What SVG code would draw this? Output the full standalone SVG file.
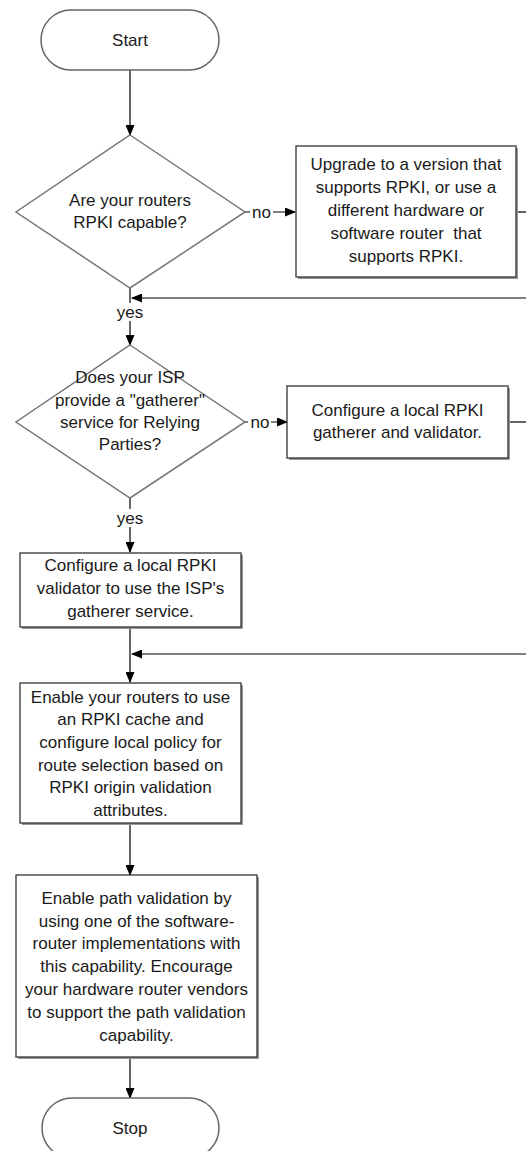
<svg xmlns="http://www.w3.org/2000/svg" width="526" height="1151" viewBox="0 0 526 1151">
<defs>
<marker id="ah" markerWidth="11" markerHeight="9" refX="10" refY="4.5" orient="auto" markerUnits="userSpaceOnUse">
<path d="M0,0 L11,4.5 L0,9 Z" fill="#000"/>
</marker>
<style>
text{font-family:"Liberation Sans",Arial,sans-serif;font-size:17px;fill:#1a1a1a;text-anchor:middle;dominant-baseline:central}
.term{fill:#fff;stroke:#666;stroke-width:1.5}
.dia{fill:#fff;stroke:#777;stroke-width:1.5}
.box{fill:#fff;stroke:#333;stroke-width:1.3}
.sh{fill:#999}
.con{fill:none;stroke:#000;stroke-width:1.2}
.lbl{fill:#fff}
</style>
</defs>
<rect width="526" height="1151" fill="#fff"/>
<g id="connectors">
<path class="con" d="M130,70 V135" marker-end="url(#ah)"/>
<path class="con" d="M245,212 H295" marker-end="url(#ah)"/>
<rect class="lbl" x="250" y="204" width="23" height="16"/>
<text x="261.5" y="212">no</text>
<path class="con" d="M516,212 H526"/>
<path class="con" d="M526,298 H132" marker-end="url(#ah)"/>
<path class="con" d="M130,288 V345" marker-end="url(#ah)"/>
<rect class="lbl" x="116" y="303" width="28" height="18"/>
<text x="130" y="312">yes</text>
<path class="con" d="M245,422 H287" marker-end="url(#ah)"/>
<rect class="lbl" x="248" y="414" width="23" height="16"/>
<text x="260" y="422">no</text>
<path class="con" d="M508,422 H526"/>
<path class="con" d="M130,498 V552" marker-end="url(#ah)"/>
<rect class="lbl" x="116" y="509" width="28" height="18"/>
<text x="130" y="518">yes</text>
<path class="con" d="M130,627 V682" marker-end="url(#ah)"/>
<path class="con" d="M526,654 H132" marker-end="url(#ah)"/>
<path class="con" d="M130,824 V875" marker-end="url(#ah)"/>
<path class="con" d="M130,1058 V1098" marker-end="url(#ah)"/>
</g>
<g id="start">
<rect class="term" x="41" y="10" width="178" height="60" rx="30"/>
<text x="130" y="40">Start</text>
</g>
<g id="q1">
<polygon class="dia" points="130,135 245,212 130,288 16,212"/>
<text x="130" y="200">Are your routers</text>
<text x="130" y="222">RPKI capable?</text>
</g>
<g id="upgrade">
<rect class="sh" x="298" y="148" width="220" height="131"/>
<rect class="box" x="296" y="146" width="220" height="131"/>
<text x="406" y="164">Upgrade to a version that</text>
<text x="406" y="187">supports RPKI, or use a</text>
<text x="406" y="210">different hardware or</text>
<text x="406" y="233" xml:space="preserve">software router  that</text>
<text x="406" y="256">supports RPKI.</text>
</g>
<g id="q2">
<polygon class="dia" points="130,345 245,422 130,498 16,422"/>
<text x="130" y="377">Does your ISP</text>
<text x="130" y="400">provide a "gatherer"</text>
<text x="130" y="422">service for Relying</text>
<text x="130" y="444">Parties?</text>
</g>
<g id="localgatherer">
<rect class="sh" x="289" y="388" width="221" height="72"/>
<rect class="box" x="287" y="386" width="221" height="72"/>
<text x="397.5" y="410">Configure a local RPKI</text>
<text x="397.5" y="432">gatherer and validator.</text>
</g>
<g id="localvalidator">
<rect class="sh" x="22" y="555" width="221" height="74"/>
<rect class="box" x="20" y="553" width="221" height="74"/>
<text x="130.5" y="565">Configure a local RPKI</text>
<text x="130.5" y="588">validator to use the ISP's</text>
<text x="130.5" y="611">gatherer service.</text>
</g>
<g id="enablerouters">
<rect class="sh" x="22" y="685" width="221" height="140"/>
<rect class="box" x="20" y="683" width="221" height="140"/>
<text x="130.5" y="697">Enable your routers to use</text>
<text x="130.5" y="719">an RPKI cache and</text>
<text x="130.5" y="742">configure local policy for</text>
<text x="130.5" y="765">route selection based on</text>
<text x="130.5" y="787">RPKI origin validation</text>
<text x="130.5" y="810">attributes.</text>
</g>
<g id="pathvalidation">
<rect class="sh" x="18" y="877" width="241" height="182"/>
<rect class="box" x="16" y="875" width="241" height="182"/>
<text x="136.5" y="898">Enable path validation by</text>
<text x="136.5" y="921">using one of the software-</text>
<text x="136.5" y="943">router implementations with</text>
<text x="136.5" y="966">this capability. Encourage</text>
<text x="136.5" y="989">your hardware router vendors</text>
<text x="136.5" y="1012">to support the path validation</text>
<text x="136.5" y="1035">capability.</text>
</g>
<g id="stop">
<rect class="term" x="42" y="1098" width="177" height="60" rx="30"/>
<text x="130" y="1128">Stop</text>
</g>
</svg>
